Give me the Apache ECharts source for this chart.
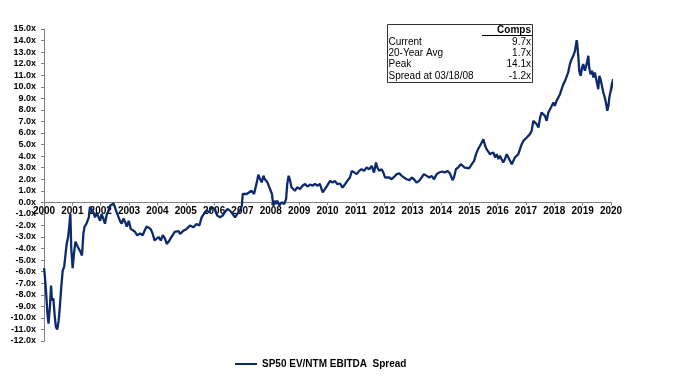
<!DOCTYPE html>
<html>
<head>
<meta charset="utf-8">
<script src="https://cdn.jsdelivr.net/npm/echarts@6/dist/echarts.min.js"></script>
<style>html,body{margin:0;padding:0;background:#fff}#c{width:674px;height:376px}</style>
</head>
<body>
<div id="c"></div>
<script>
var seriesName = 'SP50 EV/NTM EBITDA  Spread';
var years = [
2000.00,2000.02,2000.07,2000.12,2000.16,2000.21,2000.25,2000.28,2000.33,2000.38,2000.42,2000.47,2000.52,2000.56,2000.61,2000.66,2000.71,2000.75,2000.80,2000.85,2000.89,2000.93,2000.96,
2001.01,2001.06,2001.11,2001.15,2001.20,2001.25,2001.29,2001.34,2001.39,2001.43,2001.50,2001.58,2001.62,2001.68,2001.74,2001.80,2001.86,2001.92,2001.98,
2002.03,2002.09,2002.15,2002.21,2002.27,2002.33,2002.39,2002.45,2002.50,2002.56,2002.63,2002.68,2002.74,2002.80,2002.86,2002.92,2002.99,
2003.06,2003.13,2003.21,2003.29,2003.39,2003.48,2003.56,2003.62,2003.69,2003.76,2003.83,2003.90,2003.97,
2004.04,2004.12,2004.19,2004.26,2004.33,2004.40,2004.47,2004.54,2004.61,2004.68,2004.75,2004.80,2004.92,
2005.03,2005.15,2005.27,2005.38,2005.48,2005.56,2005.64,2005.74,2005.83,2005.91,2005.97,
2006.03,2006.11,2006.21,2006.30,2006.38,2006.47,2006.56,2006.65,2006.74,2006.82,2006.91,2006.98,
2007.01,2007.05,2007.15,2007.24,2007.32,2007.41,2007.48,2007.52,2007.56,2007.62,2007.68,2007.74,2007.79,2007.88,2007.95,2007.99,
2008.04,2008.09,2008.14,2008.18,2008.23,2008.30,2008.38,2008.47,2008.54,2008.58,2008.63,2008.68,2008.73,2008.79,2008.85,2008.93,
2009.03,2009.12,2009.21,2009.29,2009.38,2009.48,2009.56,2009.64,2009.73,2009.83,2009.91,2009.99,
2010.09,2010.18,2010.26,2010.35,2010.44,2010.53,2010.62,2010.70,2010.79,2010.86,2010.93,
2011.03,2011.12,2011.20,2011.29,2011.38,2011.47,2011.56,2011.64,2011.71,2011.76,2011.83,2011.91,2011.97,
2012.03,2012.09,2012.18,2012.26,2012.35,2012.44,2012.53,2012.62,2012.70,2012.79,2012.89,2012.97,
2013.05,2013.14,2013.23,2013.32,2013.40,2013.50,2013.59,2013.67,2013.76,2013.85,2013.94,
2014.04,2014.13,2014.23,2014.32,2014.41,2014.46,2014.53,2014.61,2014.70,2014.77,2014.84,2014.91,
2015.00,2015.09,2015.17,2015.24,2015.31,2015.38,2015.44,2015.50,2015.56,2015.61,2015.67,2015.73,2015.79,2015.85,2015.91,2015.97,
2016.03,2016.08,2016.14,2016.20,2016.26,2016.32,2016.38,2016.44,2016.50,2016.55,2016.61,2016.67,2016.73,2016.79,2016.85,2016.91,2016.97,
2017.03,2017.08,2017.14,2017.20,2017.26,2017.32,2017.38,2017.44,2017.50,2017.55,2017.61,2017.67,2017.73,2017.79,2017.85,2017.91,2017.97,
2018.02,2018.08,2018.14,2018.20,2018.26,2018.32,2018.38,2018.44,2018.49,2018.55,2018.61,2018.67,2018.73,2018.79,2018.81,2018.85,2018.88,2018.93,2018.98,
2019.02,2019.08,2019.14,2019.20,2019.23,2019.28,2019.33,2019.38,2019.43,2019.49,2019.55,2019.59,2019.63,2019.68,2019.73,2019.78,2019.82,2019.87,2019.91,2019.94,2019.99,
2020.03,2020.08,2020.10,2020.12
];
var spread = [
-5.7,-6.1,-7.6,-9.6,-10.5,-9.0,-7.2,-8.5,-8.3,-9.9,-10.8,-11.0,-10.2,-9.0,-7.3,-5.9,-5.6,-4.7,-3.6,-3.0,-2.1,-1.0,-3.9,
-5.7,-4.4,-3.4,-3.3,-3.9,-4.0,-4.3,-4.6,-2.7,-2.1,-1.85,-1.3,-0.4,-0.3,-0.85,-1.3,-0.9,-0.75,-1.6,
-1.0,-1.4,-1.85,-1.1,-0.75,-0.3,-0.15,-0.1,-0.4,-0.85,-1.0,-1.6,-1.85,-1.4,-1.7,-2.1,-1.6,
-2.3,-2.4,-2.55,-2.85,-2.7,-2.85,-2.4,-2.1,-2.0,-2.3,-2.7,-3.3,-3.4,
-3.0,-3.3,-2.85,-3.1,-3.6,-3.4,-3.1,-2.85,-2.55,-2.4,-2.5,-2.74,-2.45,
-2.3,-2.0,-2.16,-1.87,-2.0,-1.3,-1.0,-0.72,-0.87,-0.43,-0.29,
-0.58,-1.15,-1.3,-1.15,-0.87,-0.58,-0.72,-1.0,-1.3,-1.0,-0.72,-0.29,
0.72,0.87,0.72,0.87,1.0,0.72,0.87,1.88,2.4,2.02,1.73,2.3,2.0,1.73,1.3,1.44,
0.72,-0.29,0.14,-0.14,0.14,-0.29,0.0,-0.14,0.29,1.59,2.3,1.88,1.3,1.44,1.0,1.3,
1.15,1.44,1.59,1.36,1.53,1.44,1.59,1.44,1.59,0.87,1.15,1.44,
1.86,1.71,1.86,1.57,1.63,1.28,1.57,1.86,2.15,2.72,2.58,
2.44,2.72,2.87,2.72,3.01,2.87,3.15,2.58,3.44,3.01,2.72,2.87,2.58,
2.15,2.0,2.15,2.0,2.2,2.44,2.5,2.29,2.15,2.0,1.92,2.15,
2.0,1.71,1.86,2.15,2.44,2.29,2.15,2.29,2.0,2.44,2.58,
2.67,2.58,2.72,2.5,1.92,2.15,2.87,3.01,3.3,3.44,3.01,2.87,
2.95,3.3,3.59,4.17,4.6,4.9,5.03,5.46,4.9,4.6,4.75,4.17,4.03,4.32,3.88,4.17,
3.74,4.03,3.88,3.44,3.74,4.17,3.88,3.74,3.3,3.44,3.88,3.74,4.17,4.6,5.03,5.32,5.46,
5.61,5.61,5.9,6.18,7.05,7.19,6.76,6.47,7.34,7.77,7.92,7.48,7.05,7.77,8.06,8.2,8.64,
8.35,8.78,8.93,9.36,9.5,10.23,10.51,10.66,11.24,11.96,12.39,12.68,13.11,14.03,13.7,12.53,11.38,10.94,11.67,
11.96,11.38,11.96,12.68,11.67,11.09,11.38,10.8,11.24,10.51,9.79,10.94,10.66,10.08,9.5,9.07,8.64,7.92,8.35,9.07,9.65,
10.23,10.66,9.79,9.3
];
var compsLabels = ['Current', '20-Year Avg', 'Peak', 'Spread at 03/18/08'];
var compsValues = ['9.7x', '1.7x', '14.1x', '-1.2x'];
var compsHeader = 'Comps';
var yMin = -12, yMax = 15;

var data = years.map(function (y, i) { return [y, spread[i]]; });

var chart = echarts.init(document.getElementById('c'));
var font = 'Liberation Sans, Arial, sans-serif';
var lineColor = '#0d2a6c';
var gridTop = 29, gridBottom = 35, H = 376;
var plotH = H - gridTop - gridBottom;
var zeroOffset = -plotH * (0 - yMin) / (yMax - yMin);

var graphics = [];
graphics.push({ type: 'rect', shape: { x: 387.5, y: 24.5, width: 145, height: 58 }, style: { fill: '#fff', stroke: '#333', lineWidth: 1 }, z: 10 });
graphics.push({ type: 'text', x: 531, y: 30, style: { text: compsHeader, font: 'bold 10px ' + font, fill: '#000', textAlign: 'right', textVerticalAlign: 'middle' }, z: 11 });
graphics.push({ type: 'line', shape: { x1: 482, y1: 35.5, x2: 532, y2: 35.5 }, style: { stroke: '#000', lineWidth: 1 }, z: 11 });
var rowY = [42, 53, 64.5, 76];
for (var i = 0; i < compsLabels.length; i++) {
  graphics.push({ type: 'text', x: 388.5, y: rowY[i], style: { text: compsLabels[i], font: '10px ' + font, fill: '#000', textAlign: 'left', textVerticalAlign: 'middle' }, z: 11 });
  graphics.push({ type: 'text', x: 531, y: rowY[i], style: { text: compsValues[i], font: '10px ' + font, fill: '#000', textAlign: 'right', textVerticalAlign: 'middle' }, z: 11 });
}

chart.setOption({
  animation: false,
  backgroundColor: '#fff',
  grid: { left: 44, right: 63, top: gridTop, bottom: gridBottom, containLabel: false },
  legend: {
    data: [seriesName],
    left: 230, top: 354,
    icon: 'rect', itemWidth: 22, itemHeight: 2, itemGap: 3,
    textStyle: { fontFamily: font, fontWeight: 'bold', fontSize: 10, color: '#000' }
  },
  xAxis: {
    type: 'value', min: 2000, max: 2020, interval: 1,
    offset: zeroOffset,
    axisLine: { onZero: false, lineStyle: { color: '#808080', width: 1 } },
    axisTick: { show: true, length: 3, lineStyle: { color: '#808080' } },
    axisLabel: { margin: 4, fontFamily: font, fontWeight: 'bold', fontSize: 10, color: '#000', formatter: function (v) { return String(v); } },
    splitLine: { show: false }
  },
  yAxis: {
    type: 'value', min: yMin, max: yMax, interval: 1,
    axisLine: { show: true, lineStyle: { color: '#808080', width: 1 } },
    axisTick: { show: true, length: 3, lineStyle: { color: '#808080' } },
    axisLabel: { margin: 8, fontFamily: font, fontWeight: 'bold', fontSize: 9, color: '#000', formatter: function (v) { return v.toFixed(1) + 'x'; } },
    splitLine: { show: false }
  },
  series: [{
    name: seriesName, type: 'line', data: data, showSymbol: false, clip: false,
    lineStyle: { color: lineColor, width: 2.3 }, itemStyle: { color: lineColor }, z: 2
  }],
  graphic: graphics
});
</script>
</body>
</html>
